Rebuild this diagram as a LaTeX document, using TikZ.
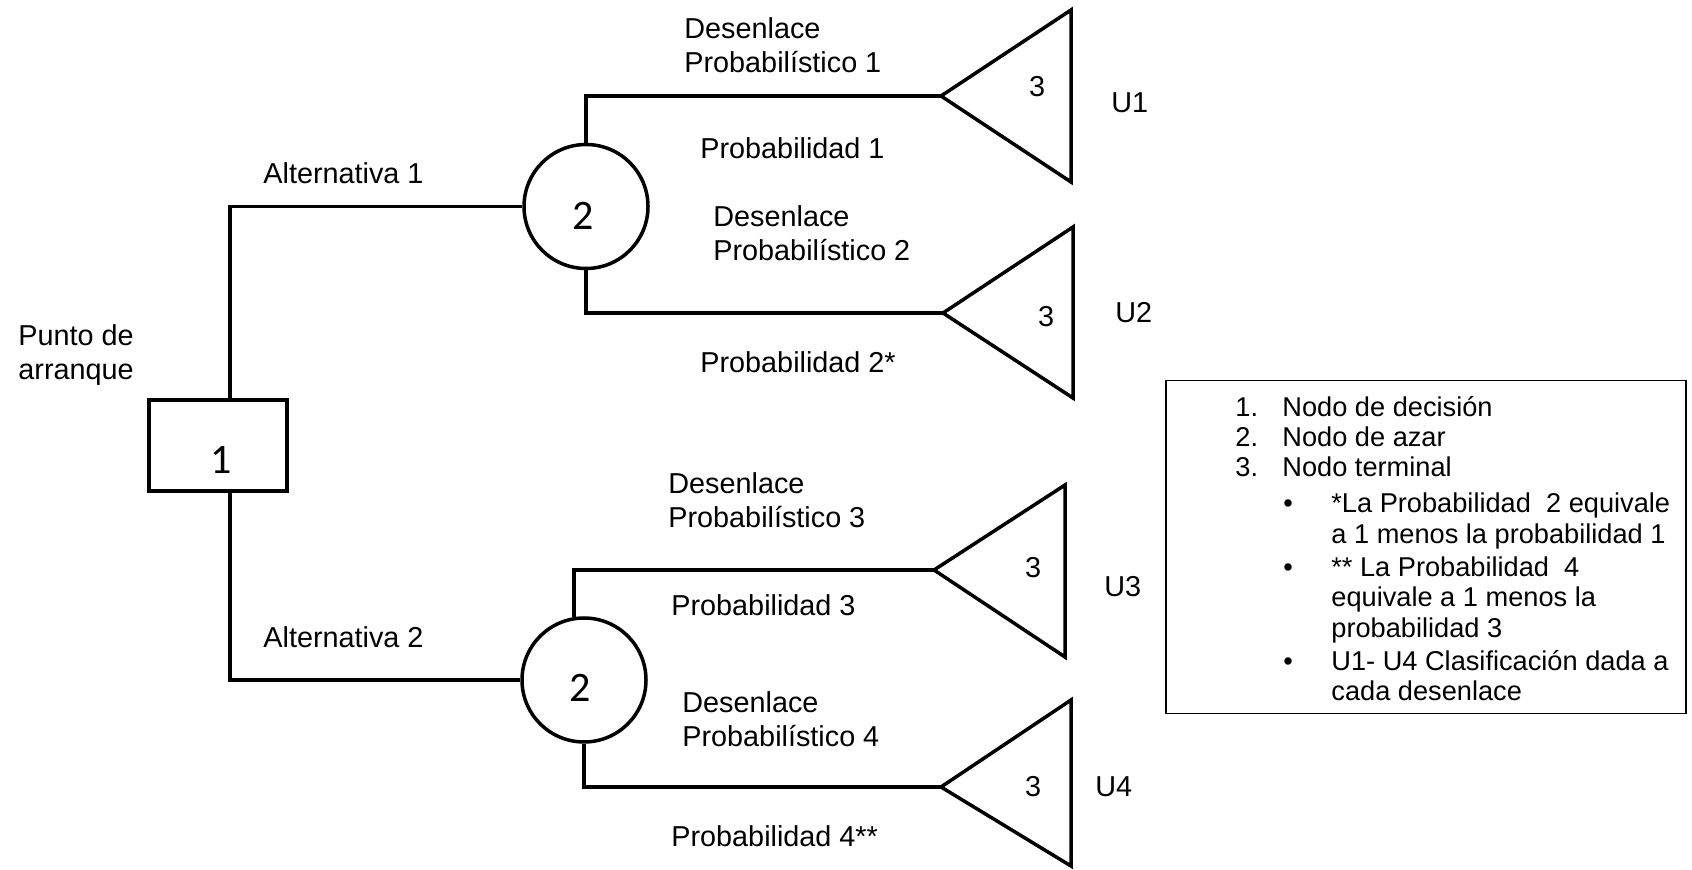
\documentclass[tikz,border=0pt]{standalone}
\usepackage{fontspec}
\setmainfont{Liberation Sans}
\newfontfamily\calfont{Carlito}
\begin{document}
\begin{tikzpicture}[x=0.5pt,y=-0.5pt,
 branch/.style={line width=1.75pt},
 decbox/.style={draw, line width=1.75pt, minimum width=69pt, minimum height=45.5pt, inner sep=0pt},
 chance/.style={draw, circle, line width=1.75pt, minimum size=62pt, inner sep=0pt},
 term/.style={draw, line width=1.75pt, line join=miter},
 lbl/.style={font=\fontsize{14.4}{16.8}\selectfont, align=left, anchor=west, inner sep=0pt},
 num/.style={font=\calfont\fontsize{21}{24}\selectfont, inner sep=0pt},
 tnum/.style={font=\fontsize{14.4}{16}\selectfont, inner sep=0pt},
 leg/.style={font=\fontsize{13.6}{15}\selectfont, anchor=base west, inner sep=0pt},
 legbox/.style={draw, line width=0.75pt, inner sep=0pt, anchor=north west}
]
\fill[white] (0,0) rectangle (1692,870);
\useasboundingbox (0,0) rectangle (1692,870);

% decision node
\node[decbox] (n1) at (218,445.5) {};
\node[num] (n1t) at (221,460) {1};

% chance nodes
\node[chance] (c1) at (586,206.5) {};
\node[num] (c1t) at (583,216) {2};
\node[chance] (c2) at (584,680) {};
\node[num] (c2t) at (580,688) {2};

% terminal nodes
\coordinate (t1) at (941,96);
\coordinate (t2) at (943,313);
\coordinate (t3) at (934,570);
\coordinate (t4) at (941,787);
\draw[term] (t1) -- ++(130,-86) -- ++(0,172) -- cycle;
\draw[term] (t2) -- ++(130,-86) -- ++(0,171) -- cycle;
\draw[term] (t3) -- ++(131,-85) -- ++(0,172) -- cycle;
\draw[term] (t4) -- ++(130,-87) -- ++(0,166) -- cycle;
\node[tnum] (t1t) at (1037,87) {3};
\node[tnum] (t2t) at (1046,317) {3};
\node[tnum] (t3t) at (1033,568) {3};
\node[tnum] (t4t) at (1033,787) {3};

% connectors
\draw[branch] ([xshift=6pt]n1.north) |- (c1.west);
\draw[branch] ([xshift=6pt]n1.south) |- (c2.west);
\draw[branch] (c1.north) |- (t1);
\draw[branch] (c1.south) |- (t2);
\draw[branch] (c2.99) |- (t3);
\draw[branch] (c2.south) |- (t4);

% labels
\node[lbl] (start) at (18,355) {Punto de\\arranque};
\node[lbl] (alt1) at (263,173) {Alternativa 1};
\node[lbl] (alt2) at (263,637) {Alternativa 2};
\node[lbl] (d1) at (684,45) {Desenlace\\Probabilístico 1};
\node[lbl] (p1) at (700,148) {Probabilidad 1};
\node[lbl] (d2) at (713,233) {Desenlace\\Probabilístico 2};
\node[lbl] (p2) at (700,362) {Probabilidad 2*};
\node[lbl] (d3) at (668,500) {Desenlace\\Probabilístico 3};
\node[lbl] (p3) at (671,605) {Probabilidad 3};
\node[lbl] (d4) at (682,719) {Desenlace\\Probabilístico 4};
\node[lbl] (p4) at (671,836) {Probabilidad 4**};
\node[lbl] (u1) at (1111,103) {U1};
\node[lbl] (u2) at (1115,313) {U2};
\node[lbl] (u3) at (1104,587) {U3};
\node[lbl] (u4) at (1095,787) {U4};

% legend
\node[legbox, minimum width=260pt, minimum height=166.5pt] (leg) at (1165,380) {};
\node[leg] (l1n) at (1235,417) {1.};
\node[leg] (l1) at (1282,417) {Nodo de decisión};
\node[leg] (l2n) at (1235,447) {2.};
\node[leg] (l2) at (1282,447) {Nodo de azar};
\node[leg] (l3n) at (1235,477) {3.};
\node[leg] (l3) at (1282,477) {Nodo terminal};
\node[leg, anchor=base] (b1) at (1288,513) {•};
\node[leg] (b1a) at (1331,513) {*La Probabilidad~ 2 equivale};
\node[leg] (b1b) at (1331,544) {a 1 menos la probabilidad 1};
\node[leg, anchor=base] (b2) at (1288,577) {•};
\node[leg] (b2a) at (1331,577) {** La Probabilidad~ 4};
\node[leg] (b2b) at (1331,607) {equivale a 1 menos la};
\node[leg] (b2c) at (1331,638) {probabilidad 3};
\node[leg, anchor=base] (b3) at (1288,671) {•};
\node[leg] (b3a) at (1331,671) {U1- U4 Clasificación dada a};
\node[leg] (b3b) at (1331,701) {cada desenlace};
\end{tikzpicture}
\end{document}
